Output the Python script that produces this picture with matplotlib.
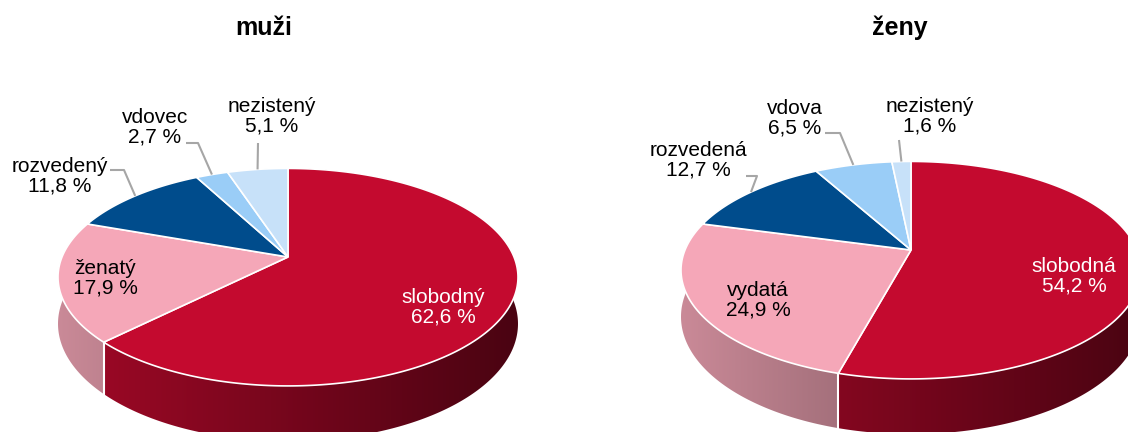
import numpy as np
import matplotlib
matplotlib.use("Agg")
import matplotlib.pyplot as plt
from matplotlib.patches import Polygon
from matplotlib.colors import to_rgb

# ---------------- data ----------------
titles = ["muži", "ženy"]
men_labels = ["slobodný", "ženatý", "rozvedený", "vdovec", "nezistený"]
men_values = [62.6, 17.9, 11.8, 2.7, 5.1]
women_labels = ["slobodná", "vydatá", "rozvedená", "vdova", "nezistený"]
women_values = [54.2, 24.9, 12.7, 6.5, 1.6]

# ---------------- style / layout ----------------
colors = ["#C40A2F", "#F5A7B8", "#004C8C", "#9ACDF7", "#C7E1F9"]
text_colors = ["white", "black", "black", "black", "black"]

A, B, P, H = 226.0, 105.0, 0.1855, 45.0   # projection parameters (px)
centers = [(288, 257), (911, 250)]
title_pos = [(264, 28), (900, 28)]

# label block centres and leader (start, elbow) per pie, None = no leader
label_pos = [
    [(443, 307), (105, 278), (60, 176), (155, 127), (272, 116)],
    [(1074, 276), (758, 300), (698, 160), (795, 118), (930, 116)],
]
leaders = [
    [None, None, ((110, 170), (124, 170)), ((186, 143), (198, 143)), ((258, 143), (258, 143))],
    [None, None, ((746, 176), (757, 176)), ((825, 133), (840, 133)), ((899, 140), (899, 140))],
]

fig = plt.figure(figsize=(11.28, 4.32), dpi=100)
ax = fig.add_axes([0, 0, 1, 1])
ax.axis("off")

FONT = ["Liberation Sans", "DejaVu Sans"]


def proj(c, theta, z=0.0):
    """theta in degrees, clockwise from 12 o'clock; z=1 -> bottom face."""
    t = np.radians(theta)
    u, v = np.sin(t), np.cos(t)
    d = 1 + P * v
    return c[0] + A * u / d, c[1] - B * v / d + H * z / d


def draw_pie(c, values, labels, lpos, leads, title, tpos):
    vals = np.array(values, dtype=float)
    frac = vals / vals.sum()
    bounds = np.concatenate([[0], np.cumsum(frac) * 360.0])

    # side (extrusion) of every slice with horizontal gradient
    xs = np.linspace(c[0] - A * 1.05, c[0] + A * 1.05, 400)
    uu = (xs - c[0]) / A
    shade = np.clip(0.60 - 0.22 * uu, 0, 1)
    for i in range(len(vals)):
        a0, a1 = bounds[i], bounds[i + 1]
        th = np.linspace(a0, a1, max(4, int((a1 - a0) * 2)))
        top = [proj(c, t) for t in th]
        bot = [proj(c, t, 1.0) for t in th[::-1]]
        poly = Polygon(top + bot, closed=True, facecolor="none", edgecolor="none")
        ax.add_patch(poly)
        base = np.array(to_rgb(colors[i]))
        img = np.clip(shade[None, :, None] * base[None, None, :], 0, 1)
        im = ax.imshow(img, extent=(xs[0], xs[-1], c[1] + B * 2, c[1] - B * 1.5),
                       aspect="auto", interpolation="bilinear", zorder=1)
        im.set_clip_path(poly)

    # white separators on visible side
    for b in bounds[:-1]:
        if np.cos(np.radians(b)) < 0:
            p0 = proj(c, b)
            p1 = proj(c, b, 1.0)
            ax.plot([p0[0], p1[0]], [p0[1], p1[1]], color="white", lw=1.5, zorder=2)

    # top faces
    for i in range(len(vals)):
        a0, a1 = bounds[i], bounds[i + 1]
        th = np.linspace(a0, a1, max(3, int((a1 - a0) * 2)))
        pts = [c] + [proj(c, t) for t in th]
        ax.add_patch(Polygon(pts, closed=True, facecolor=colors[i], edgecolor="white",
                             linewidth=1.2, joinstyle="miter", zorder=3))

    # labels and leaders
    for i in range(len(vals)):
        txt = f"{labels[i]}\n{values[i]:.1f} %".replace(".", ",")
        ax.text(lpos[i][0], lpos[i][1], txt, ha="center", va="center",
                fontsize=15, color=text_colors[i], family=FONT,
                linespacing=1.05, zorder=5)
        if leads[i] is not None:
            mid = 0.5 * (bounds[i] + bounds[i + 1])
            e = proj(c, mid)
            (sx, sy), (ex, ey) = leads[i]
            ax.plot([sx, ex, e[0]], [sy, ey, e[1]], color="#A6A6A6", lw=1.5,
                    zorder=4, solid_capstyle="butt")

    ax.text(tpos[0], tpos[1], title, ha="center", va="center", fontsize=18,
            fontweight="bold", family=FONT, zorder=5)


draw_pie(centers[0], men_values, men_labels, label_pos[0], leaders[0], titles[0], title_pos[0])
draw_pie(centers[1], women_values, women_labels, label_pos[1], leaders[1], titles[1], title_pos[1])

ax.set_xlim(0, 1128)
ax.set_ylim(432, 0)
fig.savefig("out.png", dpi=100, facecolor="white")
